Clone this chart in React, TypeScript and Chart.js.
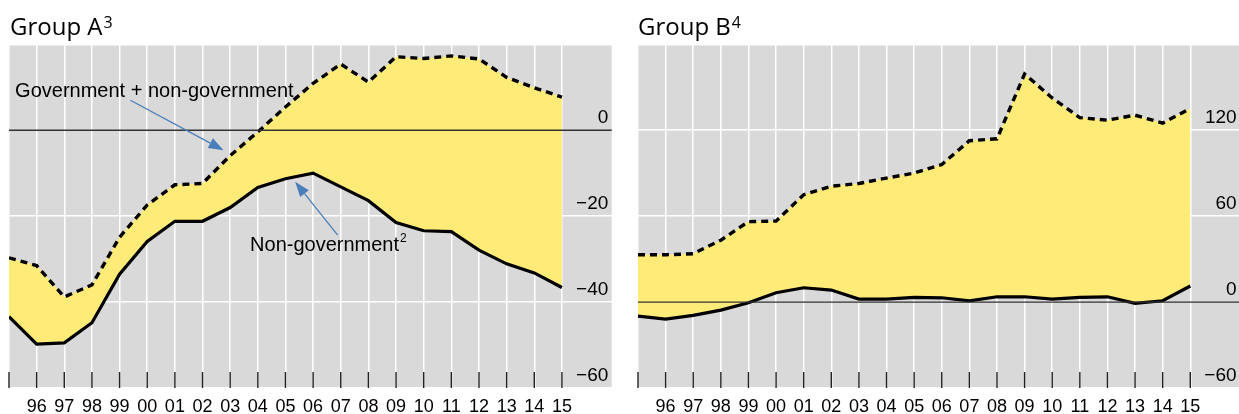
import React, { useEffect, useRef } from 'react';
import { Chart, registerables } from 'chart.js';

Chart.register(...registerables);

// ---- data ----
const years = [1995, 1996, 1997, 1998, 1999, 2000, 2001, 2002, 2003, 2004, 2005, 2006, 2007, 2008, 2009, 2010, 2011, 2012, 2013, 2014, 2015];
const xTickLabels = ['', '96', '97', '98', '99', '00', '01', '02', '03', '04', '05', '06', '07', '08', '09', '10', '11', '12', '13', '14', '15'];

const groupATotal = [-29.7, -31.5, -38.8, -36.0, -24.9, -17.4, -12.7, -12.4, -5.9, -0.4, 5.4, 10.9, 15.4, 11.2, 17.1, 16.7, 17.3, 16.6, 12.3, 9.9, 7.7];
const groupANonGov = [-43.4, -49.8, -49.5, -44.8, -33.5, -25.9, -21.2, -21.2, -18.0, -13.3, -11.3, -10.0, -13.2, -16.4, -21.5, -23.4, -23.6, -27.9, -31.1, -33.2, -36.6];

const groupBTotal = [33.0, 33.0, 33.8, 43.2, 56.2, 56.6, 75.0, 80.9, 82.8, 86.6, 90.1, 96.0, 112.7, 114.0, 159.3, 142.5, 128.8, 127.0, 130.5, 125.0, 135.2];
const groupBNonGov = [-9.8, -11.9, -9.3, -5.6, -0.5, 6.5, 10.0, 8.4, 2.1, 2.1, 3.3, 3.0, 0.9, 3.7, 3.7, 2.1, 3.3, 3.7, -0.9, 0.9, 11.2];

const groupAYTicks = [-60, -40, -20, 0, 20];
const groupBYTicks = [-60, 0, 60, 120, 180];

const seriesLabels = ['Government + non-government', 'Non-government'];

// ---- styles ----
const GRAY = '#D9D9D9';
const YELLOW = '#FFEB78';
const ARROW = '#4A7EBB';
const FONT = '"Liberation Sans", Arial, sans-serif';
const X_MIN = 1995;
const X_MAX = 2016.8;

type Note = {
  text: string;
  sup?: string;
  tx: number;
  ty: number;
  from: [number, number];
  to: [number, number];
};

const groupANotes: Note[] = [
  { text: 'Government + non-government', tx: 1995.22, ty: 7.79, from: [1999.39, 6.98], to: [2002.76, -4.65] },
  { text: 'Non-government', sup: '2', tx: 2003.72, ty: -28.07, from: [2006.89, -24.42], to: [2005.35, -12.02] },
];

const panelPlugin = {
  id: 'panel',
  beforeDraw(chart: any) {
    const { ctx, chartArea: a } = chart;
    ctx.save();
    ctx.fillStyle = GRAY;
    ctx.fillRect(a.left, a.top, a.right - a.left, a.bottom - a.top);
    ctx.restore();
  },
  afterDatasetsDraw(chart: any, _args: any, opts: any) {
    const { ctx, chartArea: a } = chart;
    const xs = chart.scales.x;
    const ys = chart.scales.y;
    ctx.save();
    // zero line
    const y0 = ys.getPixelForValue(0);
    ctx.strokeStyle = '#333';
    ctx.lineWidth = 1.3;
    ctx.beginPath();
    ctx.moveTo(a.left, y0);
    ctx.lineTo(a.right, y0);
    ctx.stroke();
    // inner tick marks at the bottom
    ctx.strokeStyle = '#222';
    ctx.lineWidth = 1.4;
    for (const t of xs.ticks) {
      const px = xs.getPixelForValue(t.value);
      ctx.beginPath();
      ctx.moveTo(px, a.bottom - 16);
      ctx.lineTo(px, a.bottom);
      ctx.stroke();
    }
    // annotations
    const notes: Note[] = (opts && opts.notes) || [];
    for (const n of notes) {
      const tx = xs.getPixelForValue(n.tx);
      const ty = ys.getPixelForValue(n.ty);
      ctx.fillStyle = '#000';
      ctx.font = `20px ${FONT}`;
      ctx.textBaseline = 'alphabetic';
      ctx.textAlign = 'left';
      ctx.fillText(n.text, tx, ty);
      if (n.sup) {
        const w = ctx.measureText(n.text).width;
        ctx.font = `12px ${FONT}`;
        ctx.fillText(n.sup, tx + w + 1, ty - 9);
      }
      const fx = xs.getPixelForValue(n.from[0]);
      const fy = ys.getPixelForValue(n.from[1]);
      const ex = xs.getPixelForValue(n.to[0]);
      const ey = ys.getPixelForValue(n.to[1]);
      const ang = Math.atan2(ey - fy, ex - fx);
      const headLen = 15;
      const headHalf = 5.5;
      const bx = ex - headLen * Math.cos(ang);
      const by = ey - headLen * Math.sin(ang);
      ctx.strokeStyle = ARROW;
      ctx.fillStyle = ARROW;
      ctx.lineWidth = 1.3;
      ctx.beginPath();
      ctx.moveTo(fx, fy);
      ctx.lineTo(bx, by);
      ctx.stroke();
      ctx.beginPath();
      ctx.moveTo(ex, ey);
      ctx.lineTo(bx + headHalf * Math.sin(ang), by - headHalf * Math.cos(ang));
      ctx.lineTo(bx - headHalf * Math.sin(ang), by + headHalf * Math.cos(ang));
      ctx.closePath();
      ctx.fill();
    }
    ctx.restore();
  },
};

function makeConfig(total: number[], nonGov: number[], yTicks: number[], notes: Note[], padding: any): any {
  const yMin = yTicks[0];
  const yMax = yTicks[yTicks.length - 1];
  return {
    type: 'line',
    data: {
      datasets: [
        {
          label: seriesLabels[0],
          data: years.map((x, i) => ({ x, y: total[i] })),
          borderColor: '#000',
          borderWidth: 3.4,
          borderDash: [7, 5],
          borderCapStyle: 'butt',
          pointRadius: 0,
          tension: 0,
          fill: '+1',
          backgroundColor: YELLOW,
        },
        {
          label: seriesLabels[1],
          data: years.map((x, i) => ({ x, y: nonGov[i] })),
          borderColor: '#000',
          borderWidth: 3.2,
          pointRadius: 0,
          tension: 0,
          fill: false,
        },
      ],
    },
    options: {
      animation: false,
      responsive: false,
      events: [],
      layout: { padding },
      plugins: {
        legend: { display: false },
        tooltip: { enabled: false },
        filler: { drawTime: 'beforeDatasetsDraw' },
        panel: { notes },
      },
      scales: {
        x: {
          type: 'linear',
          min: X_MIN,
          max: X_MAX,
          border: { display: false },
          grid: { color: '#FFFFFF', lineWidth: 1.5, drawTicks: false },
          afterBuildTicks: (axis: any) => {
            axis.ticks = years.map((v) => ({ value: v }));
          },
          afterFit: (axis: any) => {
            axis.height = 30;
          },
          ticks: {
            autoSkip: false,
            maxRotation: 0,
            padding: 8,
            color: '#000',
            font: { family: FONT, size: 18 },
            callback: (v: number) => {
              const i = years.indexOf(Math.round(v));
              return i >= 0 ? xTickLabels[i] : '';
            },
          },
        },
        y: {
          type: 'linear',
          position: 'right',
          min: yMin,
          max: yMax,
          border: { display: false },
          grid: {
            color: (c: any) => (c.tick && c.tick.value === 0 ? 'rgba(0,0,0,0)' : '#FFFFFF'),
            lineWidth: 1.5,
            drawTicks: false,
          },
          afterBuildTicks: (axis: any) => {
            axis.ticks = yTicks.map((v) => ({ value: v }));
          },
          afterFit: (axis: any) => {
            axis.width = 0;
          },
          ticks: {
            mirror: true,
            padding: -3.4,
            labelOffset: -12.5,
            color: '#000',
            font: { family: FONT, size: 19 },
            callback: (v: number) => (v === yMax ? '' : String(v).replace('-', '\u2212')),
          },
        },
      },
    },
    plugins: [panelPlugin],
  };
}

function Panel(props: { total: number[]; nonGov: number[]; yTicks: number[]; notes: Note[]; padding: any; left: number; width: number }) {
  const ref = useRef<HTMLCanvasElement | null>(null);
  useEffect(() => {
    if (!ref.current) return;
    const chart = new Chart(ref.current, makeConfig(props.total, props.nonGov, props.yTicks, props.notes, props.padding));
    return () => chart.destroy();
  }, []);
  return (
    <div style={{ position: 'absolute', left: props.left, top: 20, width: props.width, height: 398 }}>
      <canvas ref={ref} width={props.width} height={398} style={{ width: props.width, height: 398, display: 'block' }} />
    </div>
  );
}

const titleStyle: React.CSSProperties = {
  position: 'absolute',
  top: 13.7,
  fontFamily: '"Open Sans", "Noto Sans", sans-serif',
  fontSize: 24,
  lineHeight: 1,
  color: '#000',
  whiteSpace: 'nowrap',
};
const supStyle: React.CSSProperties = { fontSize: 16, position: 'relative', top: -7, marginLeft: 1 };

export default function App() {
  return (
    <div style={{ position: 'fixed', left: 0, top: 0, width: 1239, height: 414, overflow: 'hidden', background: '#fff' }}>
      <Panel total={groupATotal} nonGov={groupANonGov} yTicks={groupAYTicks} notes={groupANotes} padding={{ left: 9, right: 13.3, top: 24.3, bottom: 0 }} left={0} width={625} />
      <Panel total={groupBTotal} nonGov={groupBNonGov} yTicks={groupBYTicks} notes={[]} padding={{ left: 18, right: 5, top: 24.3, bottom: 0 }} left={620} width={625} />
      <div style={{ ...titleStyle, left: 10 }}>
        Group A<span style={supStyle}>3</span>
      </div>
      <div style={{ ...titleStyle, left: 638 }}>
        Group B<span style={supStyle}>4</span>
      </div>
    </div>
  );
}
